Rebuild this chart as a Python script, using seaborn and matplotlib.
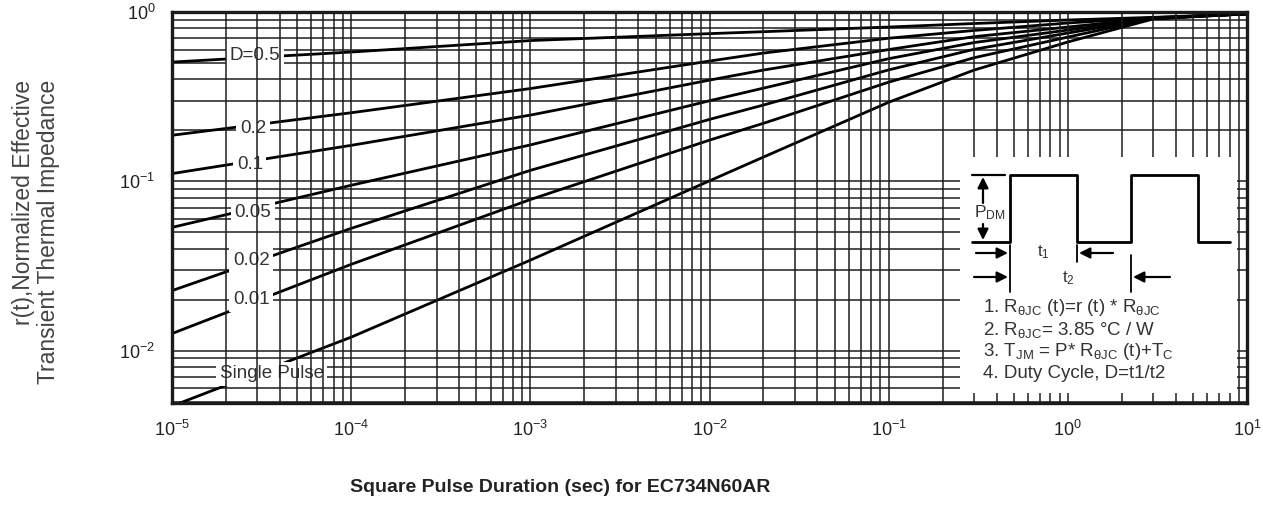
import numpy as np
import pandas as pd
import matplotlib
matplotlib.use("Agg")
import matplotlib.pyplot as plt
import matplotlib.ticker as mticker
import seaborn as sns

# ---------------- data ----------------
pulse_duration = [1e-5, 1e-4, 1e-3, 1e-2, 2e-2, 1e-1, 3e-1, 1e0, 3e0, 1e1]
r_d050 = [0.506, 0.580, 0.678, 0.745, 0.765, 0.815, 0.855, 0.897, 0.930, 0.975]
r_d020 = [0.187, 0.254, 0.353, 0.513, 0.572, 0.700, 0.778, 0.861, 0.925, 0.975]
r_d010 = [0.111, 0.163, 0.246, 0.396, 0.454, 0.600, 0.715, 0.815, 0.920, 0.975]
r_d005 = [0.0534, 0.0947, 0.164, 0.299, 0.355, 0.530, 0.660, 0.782, 0.920, 0.975]
r_d002 = [0.0226, 0.0527, 0.116, 0.232, 0.282, 0.455, 0.602, 0.751, 0.915, 0.975]
r_d001 = [0.0126, 0.0323, 0.078, 0.175, 0.220, 0.385, 0.537, 0.711, 0.915, 0.975]
r_single = [0.0047, 0.0120, 0.0342, 0.1006, 0.139, 0.293, 0.454, 0.665, 0.910, 0.975]

series_names = ["D=0.5", "0.2", "0.1", "0.05", "0.02", "0.01", "Single Pulse"]
series_values = [r_d050, r_d020, r_d010, r_d005, r_d002, r_d001, r_single]
label_t = [2.9e-5, 2.83e-5, 2.72e-5, 2.83e-5, 2.77e-5, 2.77e-5, 3.61e-5]
label_r = [0.557, 0.206, 0.126, 0.0656, 0.0341, 0.020, 0.0073]

x_label = "Square Pulse Duration (sec) for EC734N60AR"
y_label = "r(t),Normalized Effective\nTransient Thermal Impedance"
notes = [
    r"1. R$_{\mathrm{θJC}}$ (t)=r (t) * R$_{\mathrm{θJC}}$",
    r"2. R$_{\mathrm{θJC}}$= 3.85 °C / W",
    r"3. T$_{\mathrm{JM}}$ = P* R$_{\mathrm{θJC}}$ (t)+T$_{\mathrm{C}}$",
    "4. Duty Cycle, D=t1/t2",
]

# schematic waveform of the inset (inset's own pixel-like coordinates)
wave_x = [972, 1010, 1010, 1077, 1077, 1131, 1131, 1198, 1198, 1230]
wave_y = [242, 242, 175, 175, 242, 242, 175, 175, 242, 242]

# ---------------- style ----------------
sns.set_style("white")
plt.rcParams["font.family"] = ["Liberation Sans", "DejaVu Sans"]
plt.rcParams["mathtext.fontset"] = "custom"
plt.rcParams["mathtext.rm"] = "Liberation Sans"
plt.rcParams["mathtext.it"] = "Liberation Sans:italic"
plt.rcParams["mathtext.bf"] = "Liberation Sans:bold"

W, H = 1263, 525
fig = plt.figure(figsize=(W / 100, H / 100), dpi=100)
fig.patch.set_facecolor("white")
ax_l, ax_r, ax_t, ax_b = 172, 1247, 12, 403
ax = fig.add_axes([ax_l / W, 1 - ax_b / H, (ax_r - ax_l) / W, (ax_b - ax_t) / H])

rows = []
for name, vals in zip(series_names, series_values):
    for t, r in zip(pulse_duration, vals):
        rows.append({"t": t, "r": r, "series": name})
df = pd.DataFrame(rows)

sns.lineplot(data=df, x="t", y="r", hue="series", hue_order=series_names,
             palette=["black"] * len(series_names), legend=False,
             linewidth=2.0, ax=ax, zorder=2)

ax.set_xscale("log")
ax.set_yscale("log")
ax.set_xlim(1e-5, 1e1)
ax.set_ylim(0.0049, 1.0)
ax.set_xlabel("")
ax.set_ylabel("")

for axis in (ax.xaxis, ax.yaxis):
    axis.set_major_locator(mticker.LogLocator(base=10, numticks=20))
    axis.set_minor_locator(mticker.LogLocator(base=10, subs=np.arange(2, 10), numticks=20))
    axis.set_minor_formatter(mticker.NullFormatter())

ax.grid(which="both", axis="both", color="#1e1e1e", linewidth=1.1)
ax.tick_params(which="both", length=0, labelsize=13, labelcolor="#222222")
ax.tick_params(axis="x", pad=12)
ax.tick_params(axis="y", pad=12)

# vertical grid lines pass over the label boxes, horizontal ones under
ax.yaxis.set_zorder(1)
ax.xaxis.set_zorder(3.5)

for sp in ax.spines.values():
    sp.set_visible(True)
    sp.set_color("#1a1a1a")
    sp.set_linewidth(2.4)
    sp.set_zorder(6)

for name, tx, ry in zip(series_names, label_t, label_r):
    ax.text(tx, ry, name, ha="center", va="center", fontsize=13.5, color="#333333",
            zorder=3, bbox=dict(facecolor="white", edgecolor="none", pad=2.5))

# ---------------- inset ----------------
in_l, in_r, in_t, in_b = 960, 1237, 157, 393
axi = fig.add_axes([in_l / W, 1 - in_b / H, (in_r - in_l) / W, (in_b - in_t) / H])
axi.set_facecolor("white")
for sp in axi.spines.values():
    sp.set_visible(False)
axi.set_xticks([])
axi.set_yticks([])
axi.set_xlim(in_l, in_r)
axi.set_ylim(in_b, in_t)

axi.plot(wave_x, wave_y, color="black", lw=2)
axi.plot([972, 1005], [175, 175], color="black", lw=1.6)

arrow = dict(arrowstyle="-|>", color="black", lw=1.6, mutation_scale=16,
             shrinkA=0, shrinkB=0)
axi.annotate("", xy=(983, 177), xytext=(983, 203), arrowprops=arrow)
axi.annotate("", xy=(983, 240), xytext=(983, 224), arrowprops=arrow)
axi.text(990, 213, r"P$_{\mathrm{DM}}$", ha="center", va="center", fontsize=12.5, color="#333333")

axi.annotate("", xy=(1008, 253), xytext=(976, 253), arrowprops=arrow)
axi.annotate("", xy=(1079, 253), xytext=(1113, 253), arrowprops=arrow)
axi.plot([1010, 1010], [245, 292], color="black", lw=1.3)
axi.plot([1077, 1077], [245, 262], color="black", lw=1.3)
axi.text(1043, 252, r"t$_{\mathrm{1}}$", ha="center", va="center", fontsize=12, color="#333333")

axi.annotate("", xy=(1008, 277), xytext=(974, 277), arrowprops=arrow)
axi.annotate("", xy=(1133, 277), xytext=(1170, 277), arrowprops=arrow)
axi.plot([1131, 1131], [255, 292], color="black", lw=1.3)
axi.text(1068, 278, r"t$_{\mathrm{2}}$", ha="center", va="center", fontsize=12, color="#333333")

for i, line in enumerate(notes):
    axi.text(983, 308 + 21.7 * i, line, ha="left", va="center", fontsize=13.5, color="#333333")

# ---------------- axis titles ----------------
fig.text(560 / W, 1 - 487 / H, x_label, ha="center", va="center",
         fontsize=14, fontweight="bold", color="#222222")
fig.text(36 / W, 1 - 232 / H, y_label, ha="center", va="center", rotation=90,
         multialignment="right", fontsize=16.5, color="#444444", linespacing=1.15)

fig.savefig("out.png", dpi=100, facecolor="white")
